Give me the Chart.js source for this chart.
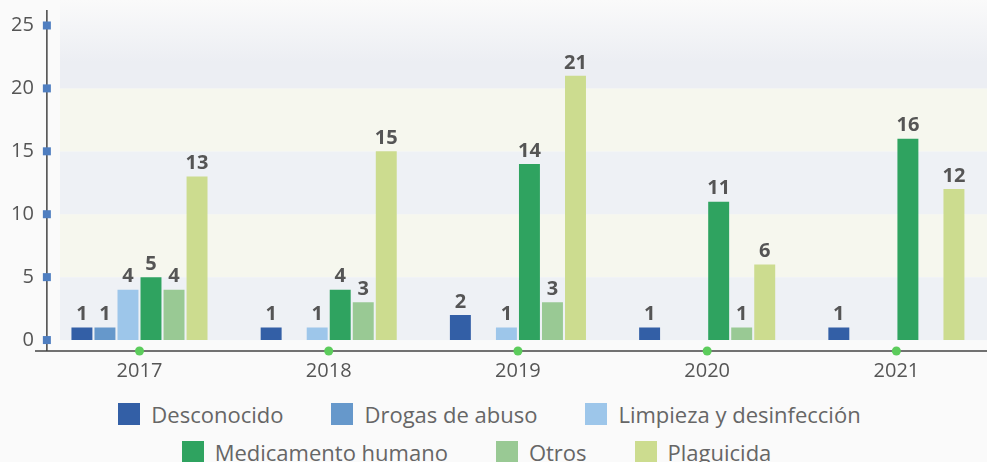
<!DOCTYPE html>
<html lang="es">
<head>
  <meta charset="UTF-8">
  <title>Casos por año y tipo de producto</title>
  <script src="https://cdn.jsdelivr.net/npm/chart.js"></script>
  <style>
    html, body { margin: 0; padding: 0; background: #fafafa; overflow: hidden; }
    #wrap { position: relative; width: 987px; height: 462px; overflow: hidden; }
    canvas { position: absolute; left: 0; top: 0; }
    .legend-row { position: absolute; left: 0; width: 987px; display: flex; justify-content: center;
      font-family: "Open Sans", sans-serif; font-size: 22px; color: #666; }
    .legend-row span.item { display: flex; align-items: center; margin: 0 24px; white-space: nowrap; }
    .legend-row i { display: inline-block; width: 22px; height: 22px; margin-right: 11px; }
  </style>
</head>
<body>
<div id="wrap">
  <canvas id="chart" width="1000" height="391"></canvas>
  <div class="legend-row" id="row1" style="top:399px; left:-4px;"></div>
  <div class="legend-row" id="row2" style="top:437px; left:-17px;"></div>
</div>
<script>
  // data
  const years = ['2017', '2018', '2019', '2020', '2021'];
  const desconocido = [1, 1, 2, 1, 1];
  const drogas = [1, null, null, null, null];
  const limpieza = [4, 1, 1, null, null];
  const medicamento = [5, 4, 14, 11, 16];
  const otros = [4, 3, 3, 1, null];
  const plaguicida = [13, 15, 21, 6, 12];
  const yTicks = [0, 5, 10, 15, 20, 25];

  const series = [
    { label: 'Desconocido', data: desconocido, color: '#335fa6' },
    { label: 'Drogas de abuso', data: drogas, color: '#6698cb' },
    { label: 'Limpieza y desinfección', data: limpieza, color: '#9dc6ea' },
    { label: 'Medicamento humano', data: medicamento, color: '#2fa360' },
    { label: 'Otros', data: otros, color: '#99c994' },
    { label: 'Plaguicida', data: plaguicida, color: '#ccdc8f' }
  ];

  // alternating background bands behind the bars
  const bandsPlugin = {
    id: 'bands',
    beforeDatasetsDraw(chart) {
      const { ctx } = chart;
      const y = chart.scales.y;
      const x0 = 60, x1 = chart.width;
      const cols = ['#eef1f5', '#f6f7ee'];
      ctx.save();
      for (let i = 0; i < yTicks.length - 2; i++) {
        const top = y.getPixelForValue(yTicks[i + 1]);
        const bot = y.getPixelForValue(yTicks[i]);
        ctx.fillStyle = cols[i % 2];
        ctx.fillRect(x0, top, x1 - x0, bot - top);
      }
      const t20 = y.getPixelForValue(20);
      const g = ctx.createLinearGradient(0, 0, 0, t20);
      g.addColorStop(0, '#fafafa');
      g.addColorStop(0.7, '#eceef3');
      g.addColorStop(1, '#eceef3');
      ctx.fillStyle = g;
      ctx.fillRect(x0, 0, x1 - x0, t20);
      ctx.restore();
    },
    afterDraw(chart) {
      const { ctx, chartArea } = chart;
      const y = chart.scales.y, x = chart.scales.x;
      const ax = chartArea.left + 2;
      ctx.save();
      ctx.strokeStyle = '#444';
      ctx.lineWidth = 1.5;
      ctx.beginPath();
      ctx.moveTo(ax, chartArea.top);
      ctx.lineTo(ax, chartArea.bottom);
      ctx.moveTo(35, chartArea.bottom);
      ctx.lineTo(chart.width, chartArea.bottom);
      ctx.stroke();
      ctx.fillStyle = '#4f7ec0';
      yTicks.forEach(v => {
        const py = y.getPixelForValue(v);
        ctx.fillRect(ax - 4, py - 4, 8, 8);
      });
      ctx.fillStyle = '#5ccc5c';
      years.forEach((yr, i) => {
        ctx.beginPath();
        ctx.arc(x.getPixelForValue(i), chartArea.bottom, 4.5, 0, Math.PI * 2);
        ctx.fill();
      });
      ctx.restore();
    }
  };

  // value labels above each bar
  const valuePlugin = {
    id: 'values',
    afterDatasetsDraw(chart) {
      const { ctx } = chart;
      ctx.save();
      ctx.font = 'bold 20px "Open Sans", sans-serif';
      ctx.fillStyle = '#555';
      ctx.textAlign = 'center';
      ctx.textBaseline = 'bottom';
      chart.data.datasets.forEach((ds, i) => {
        chart.getDatasetMeta(i).data.forEach((bar, j) => {
          const v = ds.data[j];
          if (v == null) return;
          ctx.fillText(v, bar.x, bar.y - 3);
        });
      });
      ctx.restore();
    }
  };

  new Chart(document.getElementById('chart'), {
    type: 'bar',
    data: {
      labels: years,
      datasets: series.map(s => ({
        label: s.label,
        data: s.data,
        backgroundColor: s.color,
        borderWidth: 0,
        categoryPercentage: 0.73,
        barPercentage: 0.91
      }))
    },
    options: {
      responsive: false,
      animation: false,
      layout: { padding: { left: 0, top: 10, right: 9, bottom: 0 } },
      plugins: {
        legend: { display: false },
        tooltip: { enabled: false }
      },
      scales: {
        x: {
          grid: { display: false, drawTicks: false },
          border: { display: false },
          ticks: { color: '#555', padding: 8, font: { family: 'Open Sans', size: 20 } }
        },
        y: {
          min: -0.87,
          max: 26.23,
          grid: { display: false, drawTicks: false },
          border: { display: false },
          afterFit(scale) {
            // let the axis run to the top padding, labels may overhang
            scale.paddingTop = 0;
            scale.paddingBottom = 0;
          },
          ticks: {
            stepSize: 5,
            includeBounds: false,
            padding: 11,
            color: '#555',
            font: { family: 'Open Sans', size: 20 }
          }
        }
      }
    },
    plugins: [bandsPlugin, valuePlugin]
  });

  // legend in two rows, as in the original
  const rows = [document.getElementById('row1'), document.getElementById('row2')];
  series.forEach((s, i) => {
    const item = document.createElement('span');
    item.className = 'item';
    const box = document.createElement('i');
    box.style.background = s.color;
    item.appendChild(box);
    item.appendChild(document.createTextNode(s.label));
    rows[i < 3 ? 0 : 1].appendChild(item);
  });
</script>
</body>
</html>
